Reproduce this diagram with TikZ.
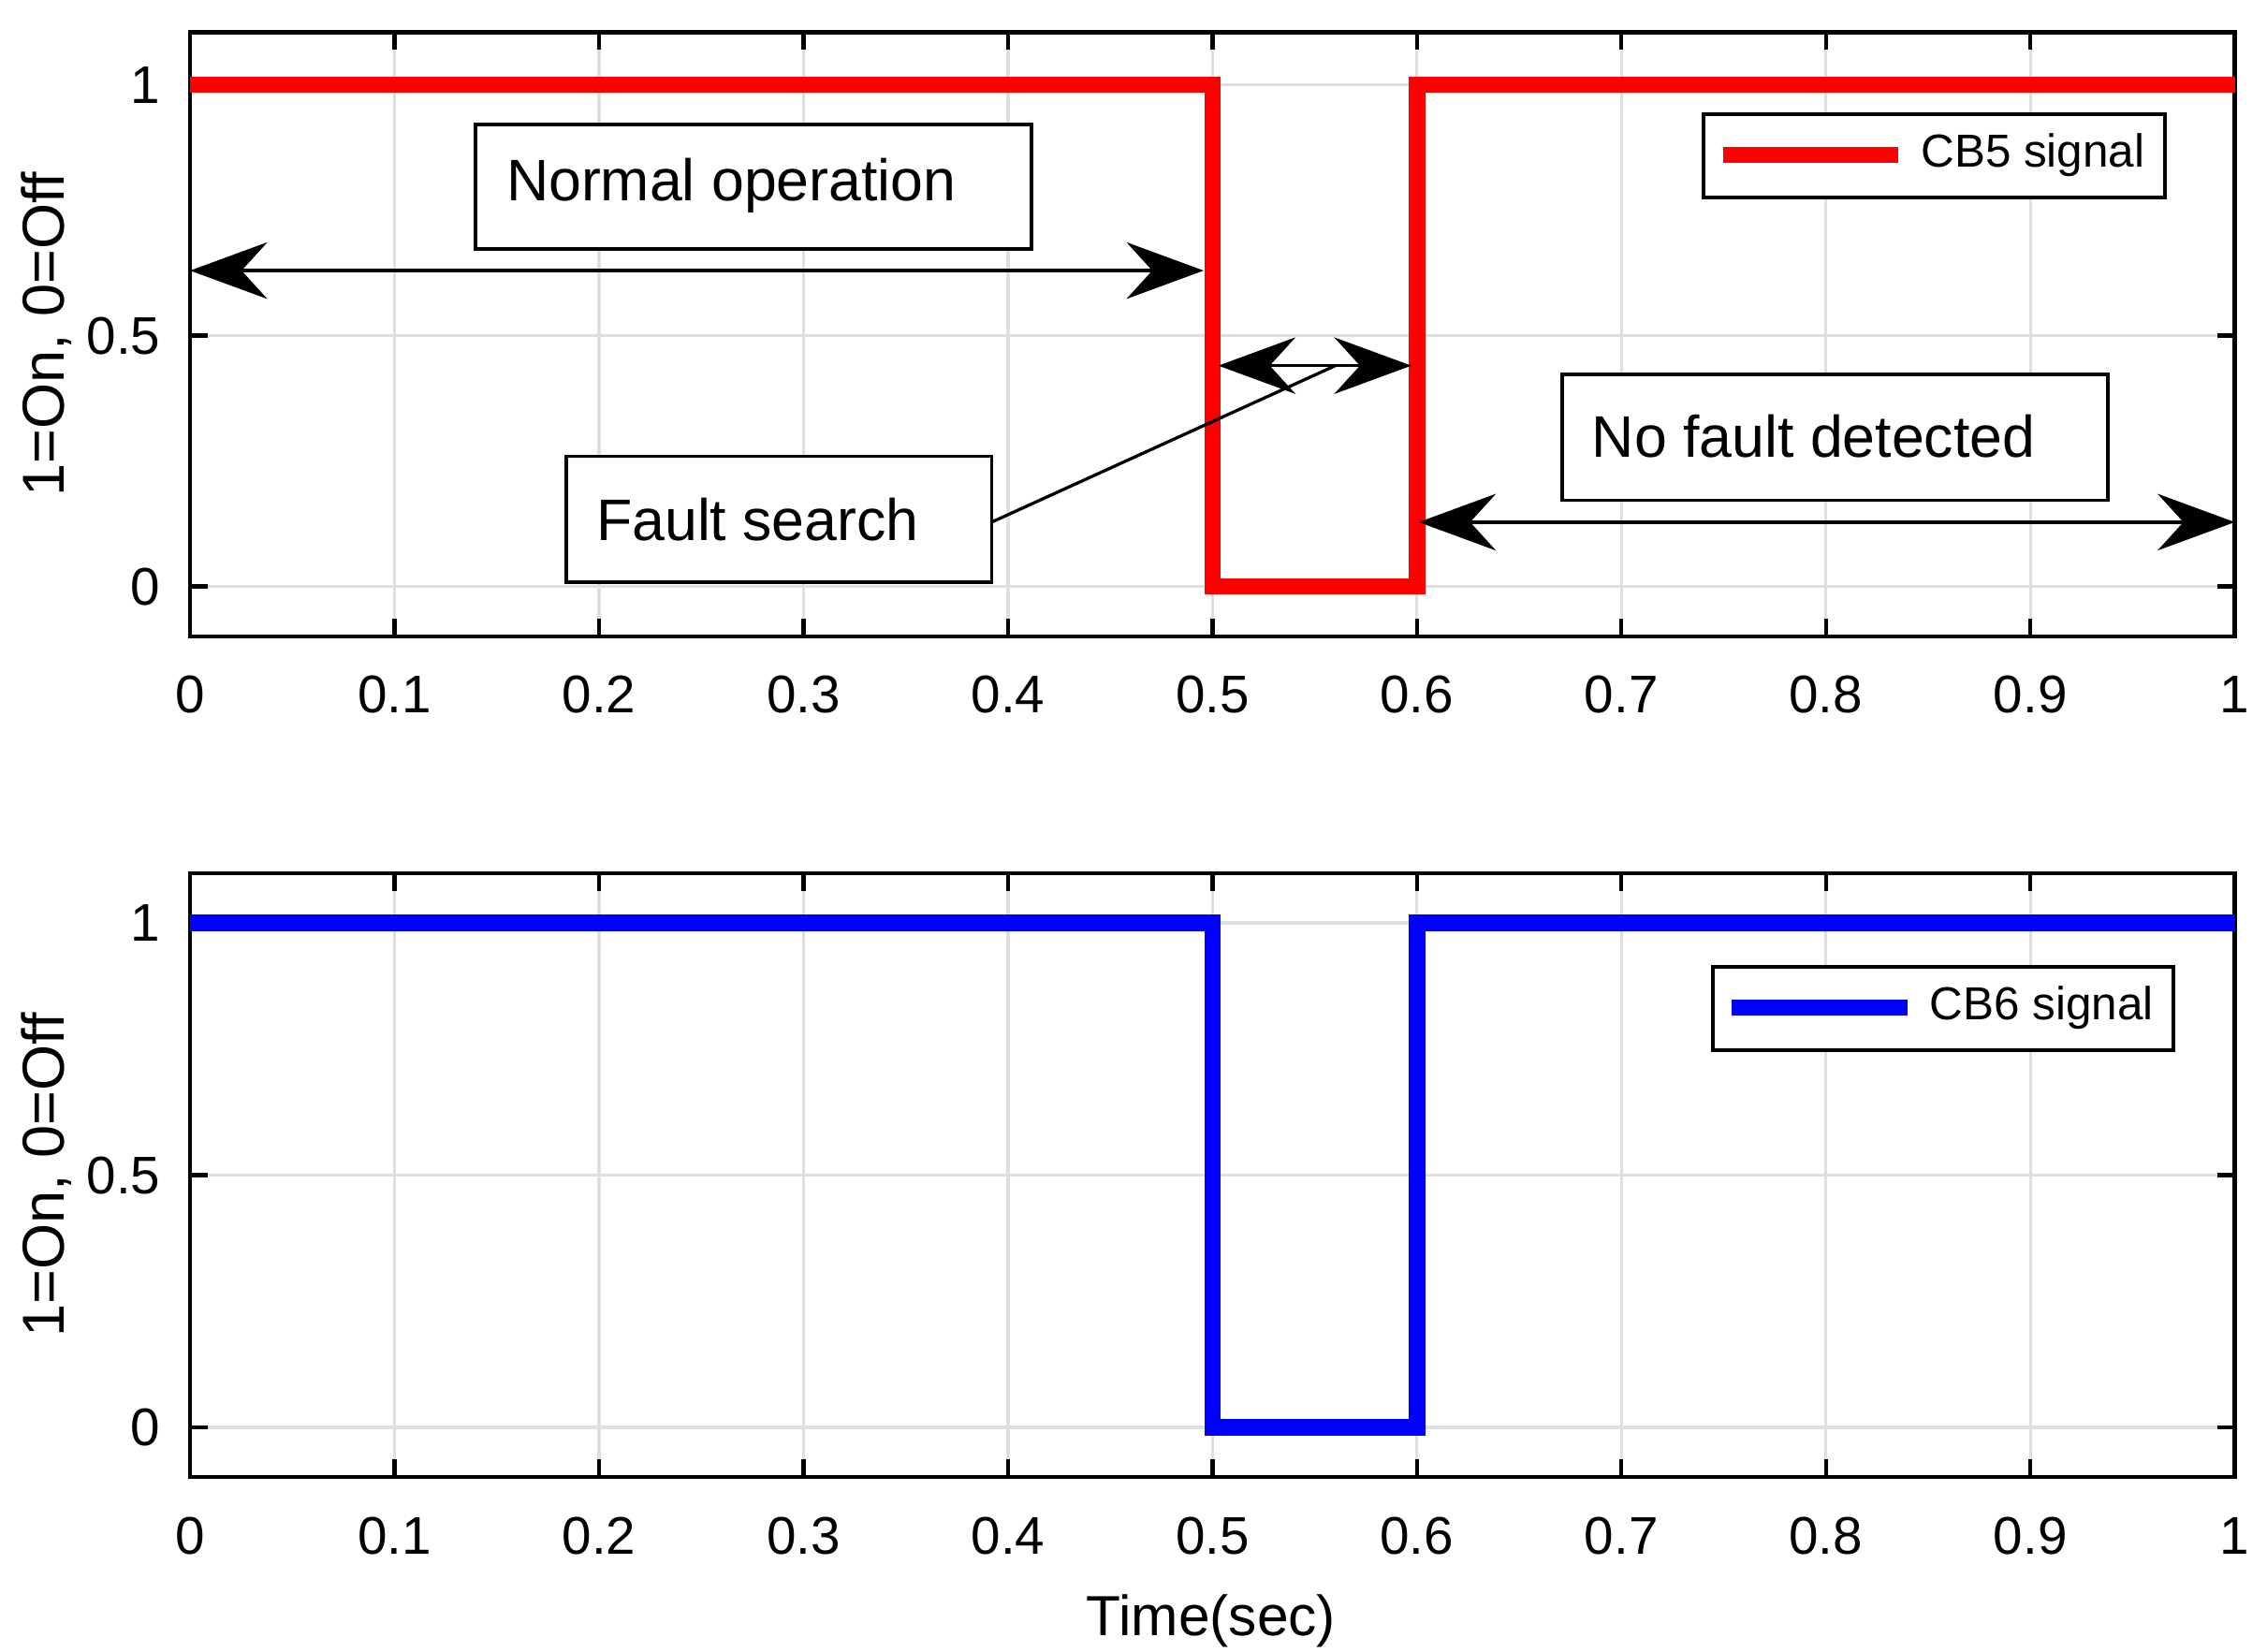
\documentclass[tikz,border=0pt]{standalone}
\usepackage{fontspec}
\setmainfont{Liberation Sans}
\usetikzlibrary{arrows.meta}
\begin{document}
\begin{tikzpicture}[x=0.01cm,y=-0.01cm,
  tick/.style={font=\fontsize{10.3pt}{12pt}\selectfont},
  annf/.style={font=\fontsize{11.4pt}{14pt}\selectfont},
  box/.style={draw=black,line width=0.7pt,fill=white},
  dbl/.style={line width=0.6pt,{Stealth[length=15pt,width=11pt,inset=5pt]}-{Stealth[length=15pt,width=11pt,inset=5pt]}},
  grid/.style={gray!25,line width=0.6pt}]
\useasboundingbox (0,0) rectangle (1550,1129);
\foreach \top/\bot/\yone/\yzero/\col/\name/\lx/\ly [count=\k] in {22/435/58/401/red/CB5/1165/78, 597/1010/631/976/blue/CB6/1171/661}{
  \foreach \i in {1,...,9}{\draw[grid] ({130+139.8*\i},\top) -- ({130+139.8*\i},\bot);}
  \foreach \v in {0,0.5,1}{\draw[grid] (130,{\yzero+(\yone-\yzero)*\v}) -- (1528,{\yzero+(\yone-\yzero)*\v});}
  \draw[line width=0.8pt] (130,\top) rectangle (1528,\bot);
  \foreach \i/\t in {0/0,1/0.1,2/0.2,3/0.3,4/0.4,5/0.5,6/0.6,7/0.7,8/0.8,9/0.9,10/1}{
    \draw[line width=0.8pt] ({130+139.8*\i},\bot) -- ++(0,-12) ({130+139.8*\i},\top) -- ++(0,12);
    \node[tick] (xt\k\i) at ({130+139.8*\i},{\bot+40}) {\t};}
  \foreach \v/\t in {0/0,0.5/0.5,1/1}{
    \draw[line width=0.8pt] (130,{\yzero+(\yone-\yzero)*\v}) -- ++(12,0) (1528,{\yzero+(\yone-\yzero)*\v}) -- ++(-12,0);
    \node[tick,anchor=east] (yt\k\v) at (122,{\yzero+(\yone-\yzero)*\v}) {\t};}
  \node[font=\fontsize{11.5pt}{14pt}\selectfont,rotate=90] (yl\k) at (32,{(\top+\bot)/2}) {1=On, 0=Off};
  \draw[\col,line width=3.2pt] (130,\yone) -- (829,\yone) -- (829,\yzero) -- (969,\yzero) -- (969,\yone) -- (1528,\yone);
  \draw[box] (\lx,\ly) rectangle ++(315,57);
  \draw[\col,line width=3.2pt] (\lx+13,\ly+28) -- ++(120,0);
  \node[anchor=west,font=\fontsize{9pt}{11pt}\selectfont] (lt\k) at (\lx+136,\ly+28) {\name\ signal};
}
\node[font=\fontsize{11pt}{13pt}\selectfont] (xlab) at (828,1108) {Time(sec)};
% annotations
\draw[box] (325,85) rectangle (705,170);
\node[annf] (no) at (500,127) {Normal operation};
\draw[box] (387,312) rectangle (678,398);
\node[annf] (fs) at (518,355) {Fault search};
\coordinate (fse) at (678,357);
\draw[box] (1068,256) rectangle (1441,342);
\node[annf] (nf) at (1240,298) {No fault detected};
\coordinate (a1) at (130,185); \coordinate (a2) at (823,185);
\coordinate (b1) at (833,250); \coordinate (b2) at (965,250);
\coordinate (c1) at (970,357); \coordinate (c2) at (1528,357);
\coordinate (fp) at (913,250);
\draw[dbl] (a1) -- (a2);
\draw[dbl] (b1) -- (b2);
\draw[dbl] (c1) -- (c2);
\draw[line width=0.6pt] (fse) -- (fp);
\end{tikzpicture}
\end{document}
